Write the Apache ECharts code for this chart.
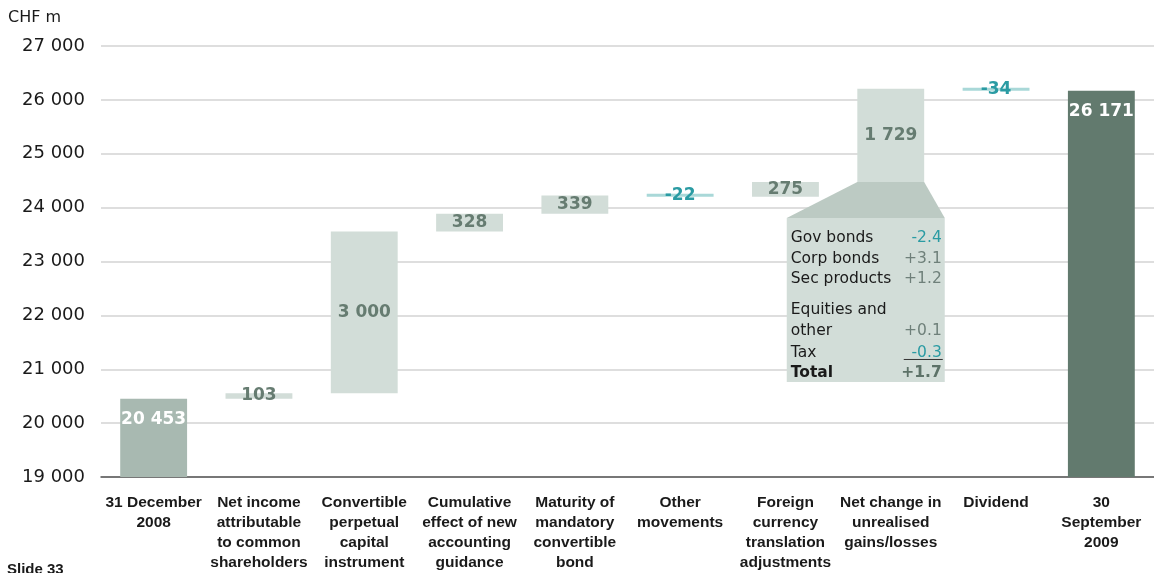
<!DOCTYPE html>
<html>
<head>
<meta charset="utf-8">
<script src="https://cdn.jsdelivr.net/npm/echarts@6/dist/echarts.min.js"></script>
<style>html,body{margin:0;padding:0;background:#fff}#c{width:1154px;height:573px}</style>
</head>
<body>
<div id="c"></div>
<script>
const categories = [
  '31 December\n2008',
  'Net income\nattributable\nto common\nshareholders',
  'Convertible\nperpetual\ncapital\ninstrument',
  'Cumulative\neffect of new\naccounting\nguidance',
  'Maturity of\nmandatory\nconvertible\nbond',
  'Other\nmovements',
  'Foreign\ncurrency\ntranslation\nadjustments',
  'Net change in\nunrealised\ngains/losses',
  'Dividend',
  '30\nSeptember\n2009'
];
const startValue = 20453;
const endValue = 26171;
const changes = [103, 3000, 328, 339, -22, 275, 1729, -34];
const yTicks = [19000, 20000, 21000, 22000, 23000, 24000, 25000, 26000, 27000];
const calloutRows = [
  ['Gov bonds', '-2.4'],
  ['Corp bonds', '+3.1'],
  ['Sec products', '+1.2'],
  ['Equities and', ''],
  ['other', '+0.1'],
  ['Tax', '-0.3'],
  ['Total', '+1.7']
];

const fmt = v => String(Math.round(v)).replace(/\B(?=(\d{3})+(?!\d))/g, ' ');

// build waterfall stacks
const baseData = ['-'], posData = ['-'], negData = ['-'];
const totalData = [{value: startValue, itemStyle: {color: '#a8b9b1'}}];
let running = startValue;
const runBefore = [];
changes.forEach(c => {
  runBefore.push(running);
  if (c >= 0) { baseData.push(running); posData.push(c); negData.push('-'); }
  else { baseData.push(running + c); negData.push(-c); posData.push('-'); }
  totalData.push('-');
  running += c;
});
baseData.push('-'); posData.push('-'); negData.push('-');
totalData.push({value: endValue, itemStyle: {color: '#627a6e'}});

const chart = echarts.init(document.getElementById('c'));
const BW = '63.5%';
chart.setOption({
  animation: false,
  backgroundColor: '#fff',
  grid: {left: 101, right: -3, top: 46, bottom: 95, containLabel: false},
  xAxis: {
    type: 'category', data: categories,
    axisLine: {show: true, lineStyle: {color: '#555', width: 1.5}},
    axisTick: {show: false},
    axisLabel: {interval: 0, margin: 16, color: '#1a1a1a', fontFamily: 'Liberation Sans', fontWeight: 'bold', fontSize: 15.5, lineHeight: 20}
  },
  yAxis: {
    type: 'value', min: yTicks[0], max: yTicks[yTicks.length - 1], interval: 1000,
    axisLine: {show: false}, axisTick: {show: false},
    splitLine: {lineStyle: {color: '#d3d3d3', width: 1.5}},
    axisLabel: {margin: 16, color: '#1a1a1a', fontFamily: 'DejaVu Sans', fontSize: 18, formatter: v => fmt(v)}
  },
  series: [
    {type: 'bar', stack: 'w', barWidth: BW, data: baseData, itemStyle: {color: 'rgba(0,0,0,0)'}, silent: true},
    {type: 'bar', stack: 'w', barWidth: BW, data: totalData,
      label: {show: true, position: 'insideTop', distance: 12, color: '#fff', fontFamily: 'DejaVu Sans', fontWeight: 'bold', fontSize: 17, formatter: p => fmt(p.value)}},
    {type: 'bar', stack: 'w', barWidth: BW, data: posData, itemStyle: {color: '#d2ddd8'},
      label: {show: true, position: 'inside', color: '#667c71', fontFamily: 'DejaVu Sans', fontWeight: 'bold', fontSize: 17, formatter: p => fmt(p.value)}},
    {type: 'bar', stack: 'w', barWidth: BW, barMinHeight: 3, data: negData, itemStyle: {color: '#a9d8d8'},
      label: {show: true, position: 'inside', color: '#2a9ba3', fontFamily: 'DejaVu Sans', fontWeight: 'bold', fontSize: 17, formatter: p => '-' + fmt(p.value)}}
  ]
});

// callout for net change in unrealised gains/losses (category 7 = changes[6])
const idx = 7;
const baseVal = runBefore[idx - 1];
const pA = chart.convertToPixel({xAxisIndex: 0, yAxisIndex: 0}, [idx, baseVal]);
const pB = chart.convertToPixel({xAxisIndex: 0, yAxisIndex: 0}, [idx + 1, baseVal]);
const cw = pB[0] - pA[0];
const hw = cw * 0.635 / 2;
const cx = pA[0], y0 = pA[1];
const boxTop = y0 + 36, boxL = cx - 104, boxR = cx + 54, boxB = boxTop + 164;
const els = [];
els.push({type: 'polygon', shape: {points: [[cx - hw, y0], [cx + hw, y0], [boxR, boxTop], [boxL, boxTop]]}, style: {fill: '#bccac3'}, z: 10});
els.push({type: 'rect', shape: {x: boxL, y: boxTop, width: boxR - boxL, height: boxB - boxTop}, style: {fill: '#d2ddd8'}, z: 10});
const rowOff = [20, 40.5, 61, 92, 113, 134.5, 155];
calloutRows.forEach((r, i) => {
  const bold = r[0] === 'Total';
  els.push({type: 'text', x: boxL + 4, y: boxTop + rowOff[i], z: 11,
    style: {text: r[0], fill: '#1a1a1a', font: (bold ? 'bold ' : '') + '15.5px "DejaVu Sans"', textVerticalAlign: 'middle', verticalAlign: 'middle'}});
  if (r[1]) {
    const neg = r[1][0] === '-';
    els.push({type: 'text', x: boxR - 3, y: boxTop + rowOff[i], z: 11,
      style: {text: r[1], fill: neg ? '#2a9ba3' : (bold ? '#5d7268' : '#6f807a'), font: (bold ? 'bold ' : '') + '15.5px "DejaVu Sans"', align: 'right', textAlign: 'right', verticalAlign: 'middle', textVerticalAlign: 'middle'}});
  }
});
els.push({type: 'line', shape: {x1: boxR - 41, y1: boxTop + 141.5, x2: boxR - 2, y2: boxTop + 141.5}, style: {stroke: '#333', lineWidth: 1}, z: 11});
els.push({type: 'text', left: 8, top: 10, style: {text: 'CHF m', fill: '#1a1a1a', font: '16px "DejaVu Sans"'}});
els.push({type: 'text', left: 7, top: 562, style: {text: 'Slide 33', fill: '#1a1a1a', font: 'bold 15px "Liberation Sans"'}});
chart.setOption({graphic: {elements: els}});
</script>
</body>
</html>
